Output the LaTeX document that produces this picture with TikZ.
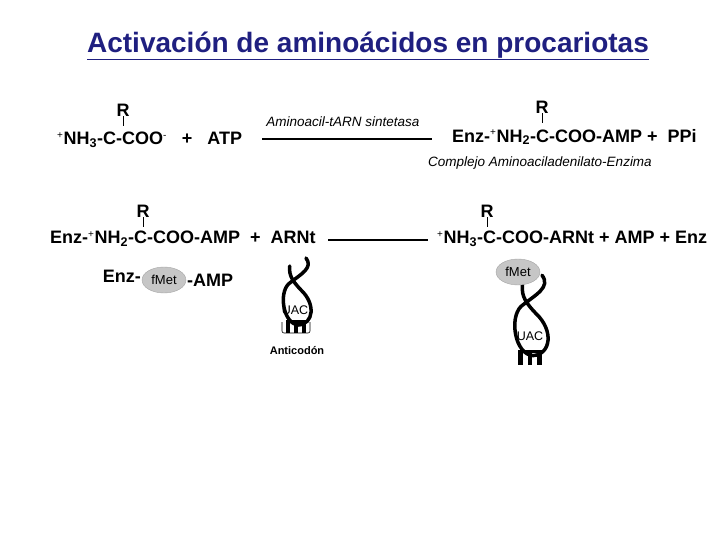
\documentclass[tikz,border=0pt]{standalone}
\usetikzlibrary{shapes.geometric}
\usepackage{fontspec}
\setmainfont{Liberation Sans}
\definecolor{navy}{HTML}{1F1F80}
\newcommand{\sps}[1]{\textsuperscript{\normalfont\fontsize{10}{10}\selectfont #1}}
\newcommand{\sbs}[1]{\textsubscript{#1}}
\begin{document}
\begin{tikzpicture}[x=1pt,y=-1pt,
  big/.style={font=\bfseries\fontsize{18}{21}\selectfont,inner sep=0pt},
  small/.style={font=\itshape\fontsize{13.5}{16}\selectfont,inner sep=0pt},
  rr/.style={font=\bfseries\fontsize{18}{21}\selectfont,inner sep=0pt},
  rline/.style={line width=0.6pt},
  arr/.style={line width=2pt},
  met/.style={ellipse,fill=gray!45,draw=gray!70,minimum width=44pt,minimum height=26pt,inner sep=0pt,font=\fontsize{13}{15}\selectfont},
  trna/.pic={
    \begin{scope}[xscale=1.25]
    \draw[line width=3.5pt,line cap=round] (8,-34) .. controls (14,-24) and (4,-18) .. (-6,-8)
      .. controls (-14,2) and (-10,32) .. (2,33) .. controls (14,32) and (16,12) .. (4,-2)
      .. controls (-2,-10) and (-6,-16) .. (-5,-26);
    \fill (-8,28) rectangle (8,31);
    \foreach \xx in {-6.5,0,6.5} \fill (\xx-1.6,28) rectangle (\xx+1.6,41);
    \end{scope}
  }]
\useasboundingbox (0,0) rectangle (720,540);
\node[font=\bfseries\fontsize{28}{32}\selectfont,text=navy,inner sep=1pt] (title) at (368,46) {\underline{Activación de aminoácidos en procariotas}};

% row 1
\node[big,anchor=west] (aa) at (57,140) {\sps{+}NH\sbs{3}-C-COO\sps{-} \ \ + \ \ ATP};
\node[rr] (r1) at (123,110) {R};
\draw[rline] (r1.south) -- ++(0,10);
\coordinate (a1s) at (262,139); \coordinate (a1e) at (432,139);
\draw[arr] (a1s) -- (a1e);
\node[small] (enz) at (343,122) {Aminoacil-tARN sintetasa};
\node[big,anchor=west] (cx) at (452,137) {Enz-\sps{+}NH\sbs{2}-C-COO-AMP + \ PPi};
\node[rr] (r2) at (542,107) {R};
\draw[rline] (r2.south) -- ++(0,10);
\node[small] (cpl) at (540,163) {Complejo Aminoaciladenilato-Enzima};

% row 2
\node[big,anchor=west] (cx2) at (50,239) {Enz-\sps{+}NH\sbs{2}-C-COO-AMP \ + \ ARNt};
\node[rr] (r3) at (143,211) {R};
\draw[rline] (r3.south) -- ++(0,10);
\coordinate (a2s) at (328,240); \coordinate (a2e) at (428,240);
\draw[arr] (a2s) -- (a2e);
\node[big,anchor=west] (pr) at (437,239) {\sps{+}NH\sbs{3}-C-COO-ARNt + AMP + Enz};
\node[rr] (r4) at (487,211) {R};
\draw[rline] (r4.south) -- ++(0,10);

% row 3
\node[big,anchor=east] (enzm) at (141,276) {Enz-};
\node[met] (fm1) at (164,280) {fMet};
\node[big,anchor=west] (amp) at (187,280) {-AMP};

\pic at (296,292) {trna};
\node[font=\fontsize{12.5}{14}\selectfont,inner sep=0pt] (uac1) at (295,310) {UAC};
\draw[line width=0.6pt,rounded corners=2pt] (282,322) -- (282,333) -- (310,333) -- (310,322);
\node[font=\bfseries\fontsize{11}{13}\selectfont,inner sep=0pt] (ant) at (297,351) {Anticodón};

\pic[scale=1.2] at (530,316) {trna};
\node[met] (fm2) at (518,272) {fMet};
\node[font=\fontsize{12.5}{14}\selectfont,inner sep=0pt] (uac2) at (530,336) {UAC};
\end{tikzpicture}
\end{document}
